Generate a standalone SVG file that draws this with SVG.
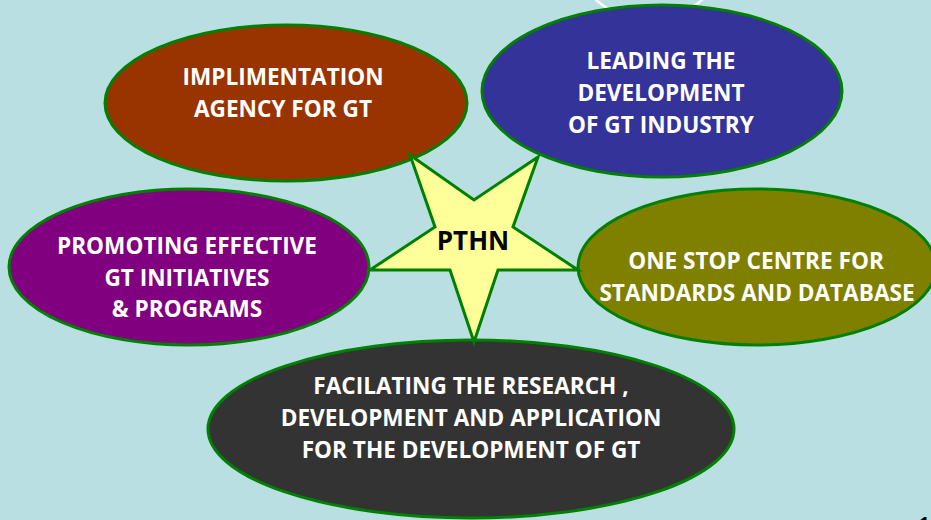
<svg xmlns="http://www.w3.org/2000/svg" width="931" height="520" viewBox="0 0 931 520">
<style>
.bub{stroke:#008000;stroke-width:3}
.t{font-family:"Open Sans","Liberation Sans",sans-serif;font-weight:bold;font-size:22.6px;fill:#FFFFFF;text-anchor:middle}
.c{font-family:"Open Sans","Liberation Sans",sans-serif;font-weight:bold;font-size:26px;fill:#000000;text-anchor:middle}
</style>
<rect x="0" y="0" width="931" height="520" fill="#B9DFE3"/>
<circle cx="649" cy="-60" r="80" fill="none" stroke="#FFFFFF" stroke-width="2.5"/>
<g id="node-implementation">
<ellipse class="bub" cx="286" cy="103" rx="181" ry="78" fill="#993300"/>
<text class="t" x="283" y="85">IMPLIMENTATION</text>
<text class="t" x="283" y="117">AGENCY FOR GT</text>
</g>
<g id="node-leading">
<ellipse class="bub" cx="662" cy="91" rx="180" ry="86" fill="#333399"/>
<text class="t" x="661" y="69">LEADING THE</text>
<text class="t" x="661" y="101">DEVELOPMENT</text>
<text class="t" x="661" y="133">OF GT INDUSTRY</text>
</g>
<g id="node-promoting">
<ellipse class="bub" cx="189" cy="267" rx="180" ry="78" fill="#800080"/>
<text class="t" x="187" y="254">PROMOTING EFFECTIVE</text>
<text class="t" x="187" y="286">GT INITIATIVES</text>
<text class="t" x="187" y="317">&amp; PROGRAMS</text>
</g>
<g id="node-onestop">
<ellipse class="bub" cx="757" cy="267" rx="179" ry="78" fill="#808000"/>
<text class="t" x="756" y="269">ONE STOP CENTRE FOR</text>
<text class="t" x="757" y="301">STANDARDS AND DATABASE</text>
</g>
<g id="node-facilating">
<ellipse class="bub" cx="471" cy="429" rx="263" ry="89" fill="#333333"/>
<text class="t" x="471" y="394">FACILATING THE RESEARCH ,</text>
<text class="t" x="471" y="426">DEVELOPMENT AND APPLICATION</text>
<text class="t" x="471" y="458">FOR THE DEVELOPMENT OF GT</text>
</g>
<g id="connectors"></g>
<g id="node-pthn">
<polygon points="410,155 474,200 538,157 513,227 578,270 498,270 474,342 450,270 370,270 435,227" fill="#FFFF99" stroke="#008000" stroke-width="3" stroke-linejoin="miter"/>
<text class="c" x="473" y="250">PTHN</text>
</g>
<text x="919" y="530" font-family="Open Sans, Liberation Sans, sans-serif" font-weight="bold" font-size="18" fill="#000000">1</text>
</svg>
